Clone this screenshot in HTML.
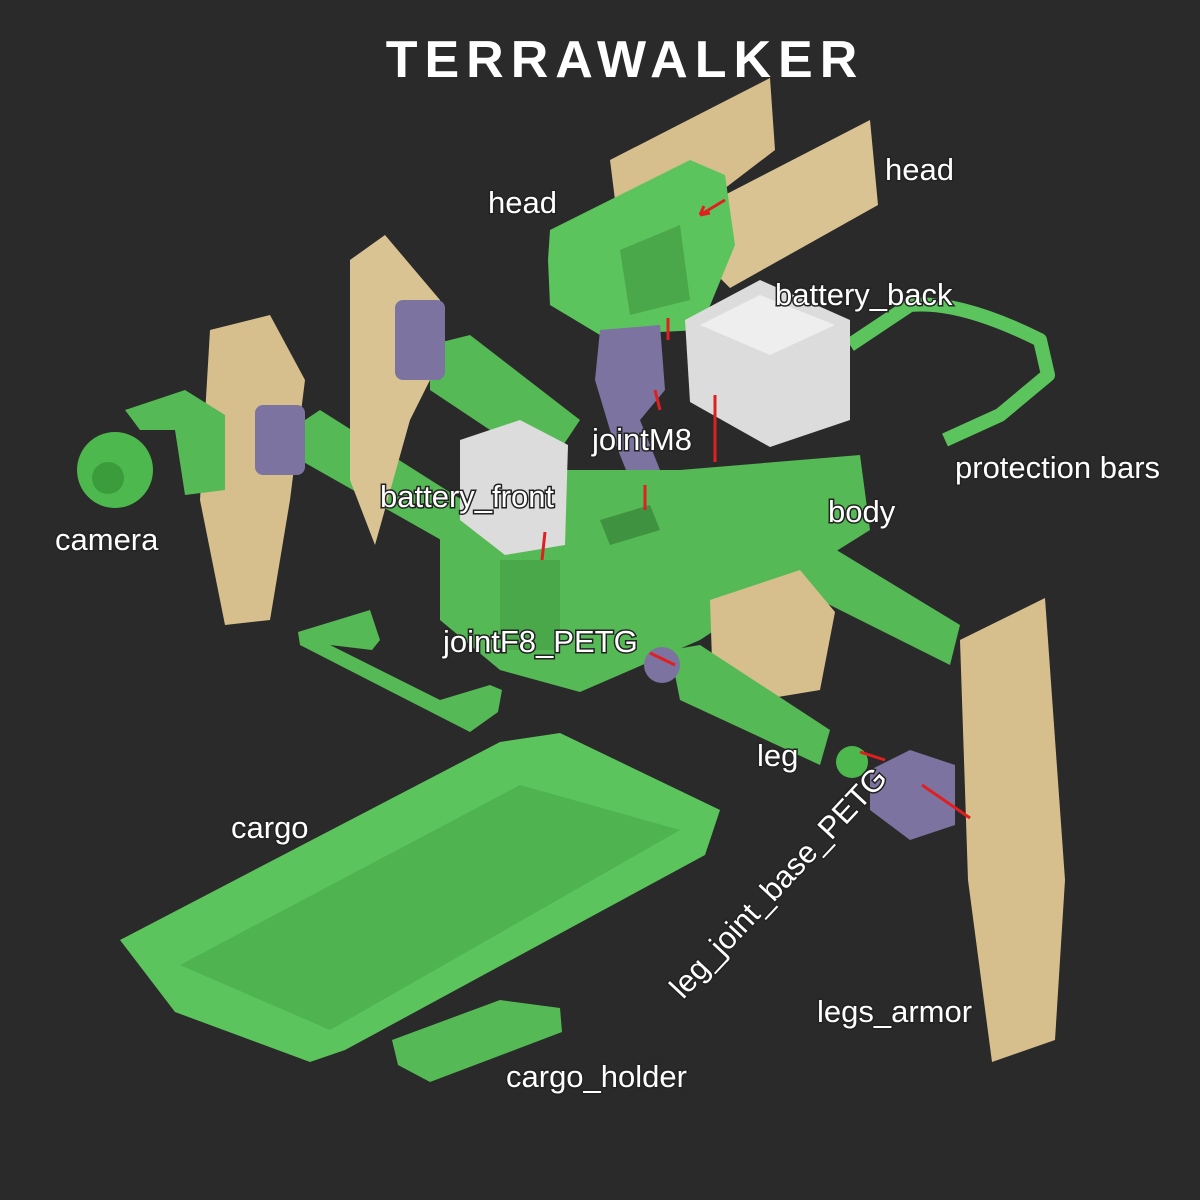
<!DOCTYPE html>
<html><head><meta charset="utf-8"><style>
html,body{margin:0;padding:0;background:#2a2a2a;}
svg{display:block}
text{font-family:"Liberation Sans",sans-serif;fill:#fff;font-size:31px;paint-order:stroke;stroke:#222;stroke-width:3px}
</style></head><body>
<svg width="1200" height="1200" viewBox="0 0 1200 1200" xmlns="http://www.w3.org/2000/svg">
<rect width="1200" height="1200" fill="#2a2a2a"/>
<text x="625" y="77" text-anchor="middle" style="font-size:52px;font-weight:900;letter-spacing:7px;stroke:none">TERRAWALKER</text>

<path d="M850,345 L910,305 Q960,300 1040,340 L1048,375 L1000,415 L945,440" fill="none" stroke="#5cc45c" stroke-width="14" stroke-linejoin="round"/>
<polygon points="430,345 470,335 580,420 560,450 520,450 430,390" fill="#55b955"/>
<polygon points="290,430 320,410 470,505 450,545 300,460" fill="#55b955"/>
<polygon points="210,330 270,315 305,380 290,500 270,620 225,625 200,500" fill="#d6bf8c"/>
<polygon points="350,260 385,235 440,300 430,380 410,420 375,545 350,480" fill="#d9c392"/>
<rect x="395" y="300" width="50" height="80" rx="8" fill="#7c73a0"/>
<rect x="255" y="405" width="50" height="70" rx="8" fill="#7c73a0"/>
<polygon points="125,410 185,390 225,415 225,490 185,495 175,430 140,430" fill="#55b955"/>
<circle cx="115" cy="470" r="38" fill="#4db84d"/>
<circle cx="108" cy="478" r="16" fill="#3b9c3b"/>
<polygon points="610,160 770,78 775,150 690,215 615,200" fill="#d6bf8c"/>
<polygon points="715,200 870,120 878,205 730,288 712,270" fill="#d9c392"/>
<polygon points="550,230 690,160 725,175 735,245 700,330 600,335 550,305 548,260" fill="#5cc45c"/>
<polygon points="620,250 680,225 690,300 630,315" fill="#4aa84a"/>
<polygon points="600,330 660,325 665,390 640,420 660,470 630,480 610,430 595,380" fill="#7c73a0"/>
<polygon points="440,525 560,470 680,470 860,455 870,530 830,555 700,640 580,692 500,670 440,620" fill="#55b955"/>
<polygon points="600,520 650,505 660,530 610,545" fill="#3f923f"/>
<polygon points="500,560 560,560 560,650 500,650" fill="#4aa84a"/>
<polygon points="685,320 760,280 850,320 850,420 770,447 690,402" fill="#dcdcdc"/>
<polygon points="700,325 760,295 835,325 770,355" fill="#eeeeee"/>
<polygon points="460,440 520,420 568,445 565,545 505,555 460,520" fill="#dcdcdc"/>
<polygon points="780,545 820,540 960,625 950,665 800,590" fill="#55b955"/>
<polygon points="710,600 800,570 835,612 820,690 760,700 712,660" fill="#d6bf8c"/>
<polygon points="670,650 700,645 830,730 820,765 680,700" fill="#55b955"/>
<circle cx="662" cy="665" r="18" fill="#7c73a0"/>
<circle cx="852" cy="762" r="16" fill="#4db84d"/>
<polygon points="870,770 910,750 955,765 955,825 910,840 870,810" fill="#7c73a0"/>
<polygon points="960,640 1045,598 1065,880 1055,1040 992,1062 968,880" fill="#d6bf8c"/>
<polygon points="298,632 370,610 380,640 372,650 330,645 440,700 490,685 502,690 498,712 470,732 300,645" fill="#55b955"/>
<polygon points="120,940 500,742 560,733 720,810 705,855 345,1050 310,1062 175,1012" fill="#5cc45c"/>
<polygon points="180,965 520,785 680,830 330,1030" fill="#4fb34f"/>
<polygon points="392,1040 500,1000 560,1008 562,1032 430,1082 398,1065" fill="#55b955"/>
<g stroke="#e02020" stroke-width="3" fill="none">
<path d="M725,200 L700,215 M700,215 l10,-2 M700,215 l4,-9"/>
<path d="M668,340 L668,318"/>
<path d="M655,390 L660,410"/>
<path d="M715,395 L715,462"/>
<path d="M645,485 L645,510"/>
<path d="M545,532 L542,560"/>
<path d="M675,665 L650,653"/>
<path d="M860,752 L885,760"/>
<path d="M922,785 L970,818"/>
</g>

<text x="488" y="213">head</text>
<text x="885" y="180">head</text>
<text x="775" y="305">battery_back</text>
<text x="955" y="478">protection bars</text>
<text x="592" y="450">jointM8</text>
<text x="380" y="507">battery_front</text>
<text x="828" y="522">body</text>
<text x="55" y="550">camera</text>
<text x="443" y="652">jointF8_PETG</text>
<text x="757" y="766">leg</text>
<text x="231" y="838">cargo</text>
<text x="817" y="1022">legs_armor</text>
<text x="506" y="1087">cargo_holder</text>
<text transform="translate(683,1000) rotate(-47)">leg_joint_base_PETG</text>
</svg>
</body></html>
